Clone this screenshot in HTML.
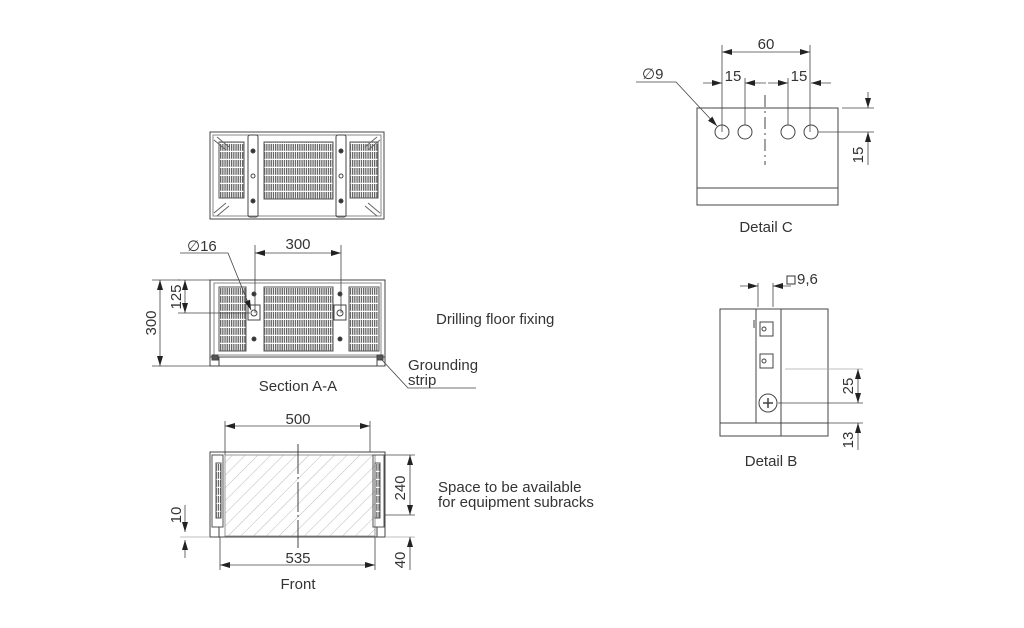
<!DOCTYPE html>
<html><head><meta charset="utf-8"><style>
html,body{margin:0;padding:0;background:#fff;}
svg{display:block;}
text{font-family:"Liberation Sans",sans-serif;fill:#333;}
</style></head><body>
<svg width="1024" height="628" viewBox="0 0 1024 628" xmlns="http://www.w3.org/2000/svg">
<defs>
<pattern id="slat" width="2.2" height="8" patternUnits="userSpaceOnUse">
<rect width="2.2" height="8" fill="#fff"/><rect x="0" y="0" width="1.3" height="6.8" fill="#666"/>
</pattern>
<pattern id="hatch" width="9" height="9" patternUnits="userSpaceOnUse" patternTransform="rotate(45)">
<line x1="0" y1="0" x2="0" y2="9" stroke="#bbb" stroke-width="1"/>
</pattern>
<marker id="ar" viewBox="0 0 10 6" refX="10" refY="3" markerWidth="10" markerHeight="6" orient="auto-start-reverse" markerUnits="userSpaceOnUse">
<path d="M0,0 L10,3 L0,6 z" fill="#222"/></marker>
</defs>
<g stroke="#444" stroke-width="1" fill="none">
<!-- TOP VIEW -->
<rect x="210" y="132" width="174" height="87"/>
<rect x="213" y="135" width="168" height="81" stroke="#888"/>
<rect x="219" y="142" width="25" height="56" fill="url(#slat)" stroke="#555"/>
<rect x="350" y="142" width="28" height="56" fill="url(#slat)" stroke="#555"/>
<rect x="264" y="142" width="69" height="57" fill="url(#slat)" stroke="#555"/>
<rect x="248" y="135" width="10" height="82" rx="2"/>
<rect x="336" y="135" width="10" height="82" rx="2"/>
<circle cx="253" cy="151" r="2" fill="#333"/><circle cx="253" cy="176" r="2"/><circle cx="253" cy="201" r="2" fill="#333"/>
<circle cx="341" cy="151" r="2" fill="#333"/><circle cx="341" cy="176" r="2"/><circle cx="341" cy="201" r="2" fill="#333"/>
<path d="M214,140 L226,150 M217,137 L229,147 M214,213 L226,203 M217,216 L229,206 M380,140 L368,150 M377,137 L365,147 M380,213 L368,203 M377,216 L365,206" stroke="#666"/>
<!-- SECTION A-A -->
<rect x="210" y="280" width="175" height="86"/>
<line x1="210" y1="357" x2="385" y2="357"/>
<rect x="214" y="283" width="167" height="72" stroke="#888"/>
<rect x="219" y="287" width="27" height="64" fill="url(#slat)" stroke="#555"/>
<rect x="349" y="287" width="30" height="64" fill="url(#slat)" stroke="#555"/>
<rect x="264" y="287" width="69" height="64" fill="url(#slat)" stroke="#555"/>
<rect x="248" y="305" width="12" height="15"/><circle cx="254" cy="313" r="3"/>
<rect x="334" y="305" width="12" height="15"/><circle cx="340" cy="313" r="3"/>
<circle cx="254" cy="294" r="2" fill="#333"/><circle cx="340" cy="294" r="2" fill="#333"/>
<circle cx="254" cy="339" r="2" fill="#333"/><circle cx="340" cy="339" r="2" fill="#333"/>
<rect x="212" y="355" width="6" height="5" fill="#555"/><rect x="377" y="355" width="6" height="5" fill="#555"/>
<line x1="219" y1="357" x2="219" y2="366"/><line x1="377" y1="357" x2="377" y2="366"/>
<!-- dims A-A -->
<line x1="255" y1="245" x2="255" y2="313" stroke-width="0.8"/>
<line x1="341" y1="245" x2="341" y2="313" stroke-width="0.8"/>
<line x1="255" y1="253" x2="341" y2="253" stroke-width="0.8" marker-start="url(#ar)" marker-end="url(#ar)"/>
<polyline points="180,253 228,253 251,310" stroke-width="0.8" marker-end="url(#ar)"/>
<line x1="178" y1="280" x2="210" y2="280" stroke-width="0.8"/>
<line x1="178" y1="313" x2="250" y2="313" stroke-width="0.8"/>
<line x1="152" y1="366" x2="210" y2="366" stroke-width="0.8"/>
<line x1="152" y1="280" x2="180" y2="280" stroke-width="0.8"/>
<line x1="185" y1="280" x2="185" y2="313" stroke-width="0.8" marker-start="url(#ar)" marker-end="url(#ar)"/>
<line x1="160" y1="280" x2="160" y2="366" stroke-width="0.8" marker-start="url(#ar)" marker-end="url(#ar)"/>
<polyline points="382,360 408,388 476,388" stroke-width="0.8"/>
<!-- FRONT -->
<rect x="210" y="452" width="175" height="85"/>
<rect x="225" y="455" width="150" height="81" fill="url(#hatch)" stroke="#999"/>
<rect x="212" y="455" width="11" height="72" stroke="#555"/>
<rect x="373" y="455" width="11" height="72" stroke="#555"/>
<rect x="216" y="463" width="5" height="55" fill="url(#slat)" stroke="#555"/>
<rect x="375" y="463" width="5" height="55" fill="url(#slat)" stroke="#555"/>
<line x1="219" y1="527" x2="219" y2="537"/><line x1="377" y1="527" x2="377" y2="537"/>
<line x1="298" y1="444" x2="298" y2="548" stroke-dasharray="30,3,2,3"/>
<line x1="225" y1="421" x2="225" y2="455" stroke-width="0.8"/>
<line x1="370" y1="421" x2="370" y2="452" stroke-width="0.8"/>
<line x1="225" y1="426" x2="370" y2="426" stroke-width="0.8" marker-start="url(#ar)" marker-end="url(#ar)"/>
<line x1="220" y1="537" x2="220" y2="570" stroke-width="0.8"/>
<line x1="375" y1="537" x2="375" y2="570" stroke-width="0.8"/>
<line x1="220" y1="565" x2="375" y2="565" stroke-width="0.8" marker-start="url(#ar)" marker-end="url(#ar)"/>
<line x1="385" y1="455" x2="415" y2="455" stroke-width="0.8"/>
<line x1="385" y1="515" x2="415" y2="515" stroke-width="0.8"/>
<line x1="385" y1="537" x2="415" y2="537" stroke="#aaa" stroke-width="0.8"/>
<line x1="410" y1="455" x2="410" y2="515" stroke-width="0.8" marker-start="url(#ar)" marker-end="url(#ar)"/>
<line x1="410" y1="537" x2="410" y2="570" stroke-width="0.8" marker-start="url(#ar)"/>
<line x1="180" y1="537" x2="210" y2="537" stroke="#aaa" stroke-width="0.8"/>
<line x1="185" y1="505" x2="185" y2="532" stroke-width="0.8" marker-end="url(#ar)"/>
<line x1="185" y1="540" x2="185" y2="558" stroke-width="0.8" marker-start="url(#ar)"/>
<!-- DETAIL C -->
<rect x="697" y="108" width="141" height="97"/>
<line x1="697" y1="188" x2="838" y2="188"/>
<circle cx="722" cy="132" r="7"/><circle cx="745" cy="132" r="7"/>
<circle cx="788" cy="132" r="7"/><circle cx="811" cy="132" r="7"/>
<line x1="765" y1="95" x2="765" y2="165" stroke-dasharray="12,4,2,4"/>
<line x1="722" y1="45" x2="722" y2="132" stroke-width="0.8"/>
<line x1="810" y1="45" x2="810" y2="132" stroke-width="0.8"/>
<line x1="745" y1="78" x2="745" y2="125" stroke-width="0.8"/>
<line x1="788" y1="78" x2="788" y2="125" stroke-width="0.8"/>
<line x1="722" y1="52" x2="810" y2="52" stroke-width="0.8" marker-start="url(#ar)" marker-end="url(#ar)"/>
<line x1="703" y1="83" x2="722" y2="83" stroke-width="0.8" marker-end="url(#ar)"/>
<line x1="745" y1="83" x2="766" y2="83" stroke-width="0.8" marker-start="url(#ar)"/>
<line x1="768" y1="83" x2="788" y2="83" stroke-width="0.8" marker-end="url(#ar)"/>
<line x1="811" y1="83" x2="831" y2="83" stroke-width="0.8" marker-start="url(#ar)"/>
<polyline points="636,82 676,82 717,126" stroke-width="0.8" marker-end="url(#ar)"/>
<line x1="842" y1="108" x2="874" y2="108" stroke-width="0.8"/>
<line x1="818" y1="132" x2="874" y2="132" stroke-width="0.8"/>
<line x1="868" y1="92" x2="868" y2="108" stroke-width="0.8" marker-end="url(#ar)"/>
<line x1="868" y1="132" x2="868" y2="165" stroke-width="0.8" marker-start="url(#ar)"/>
<!-- DETAIL B -->
<rect x="720" y="309" width="108" height="127"/>
<line x1="720" y1="423" x2="828" y2="423"/>
<line x1="756" y1="309" x2="756" y2="423"/>
<line x1="781" y1="309" x2="781" y2="436"/>
<line x1="754" y1="320" x2="754" y2="328"/>
<rect x="760" y="322" width="13" height="14"/><circle cx="764" cy="329" r="2"/>
<rect x="760" y="354" width="13" height="14"/><circle cx="764" cy="361" r="2"/>
<circle cx="768" cy="403" r="9"/>
<path d="M768,398 V408 M763,403 H773" stroke-width="1.5"/>
<line x1="758" y1="283" x2="758" y2="307" stroke-width="0.8"/>
<line x1="773" y1="283" x2="773" y2="307" stroke-width="0.8"/>
<line x1="740" y1="286" x2="758" y2="286" stroke-width="0.8" marker-end="url(#ar)"/>
<line x1="773" y1="286" x2="791" y2="286" stroke-width="0.8" marker-start="url(#ar)"/>
<line x1="785" y1="369" x2="863" y2="369" stroke="#aaa" stroke-width="0.8"/>
<line x1="778" y1="403" x2="863" y2="403" stroke-width="0.8"/>
<line x1="785" y1="423" x2="863" y2="423" stroke-width="0.8"/>
<line x1="858" y1="369" x2="858" y2="403" stroke-width="0.8" marker-start="url(#ar)" marker-end="url(#ar)"/>
<line x1="858" y1="423" x2="858" y2="450" stroke-width="0.8" marker-start="url(#ar)"/>
<rect x="787" y="276" width="8" height="8" stroke="#333"/>
</g>
<g font-size="15">
<text x="187" y="251">∅16</text>
<text x="298" y="249" text-anchor="middle">300</text>
<text transform="translate(181,297) rotate(-90)" text-anchor="middle">125</text>
<text transform="translate(156,323) rotate(-90)" text-anchor="middle">300</text>
<text x="436" y="324">Drilling floor fixing</text>
<text x="408" y="370">Grounding</text>
<text x="408" y="385">strip</text>
<text x="298" y="391" text-anchor="middle">Section A-A</text>
<text x="298" y="424" text-anchor="middle">500</text>
<text transform="translate(405,488) rotate(-90)" text-anchor="middle">240</text>
<text transform="translate(181,515) rotate(-90)" text-anchor="middle">10</text>
<text transform="translate(405,560) rotate(-90)" text-anchor="middle">40</text>
<text x="298" y="563" text-anchor="middle">535</text>
<text x="298" y="589" text-anchor="middle">Front</text>
<text x="438" y="492">Space to be available</text>
<text x="438" y="507">for equipment subracks</text>
<text x="766" y="49" text-anchor="middle">60</text>
<text x="733" y="81" text-anchor="middle">15</text>
<text x="799" y="81" text-anchor="middle">15</text>
<text x="642" y="79">∅9</text>
<text transform="translate(863,155) rotate(-90)" text-anchor="middle">15</text>
<text x="766" y="232" text-anchor="middle">Detail C</text>
<text x="797" y="284">9,6</text>
<text transform="translate(853,386) rotate(-90)" text-anchor="middle">25</text>
<text transform="translate(853,440) rotate(-90)" text-anchor="middle">13</text>
<text x="771" y="466" text-anchor="middle">Detail B</text>
</g>
</svg>
</body></html>
